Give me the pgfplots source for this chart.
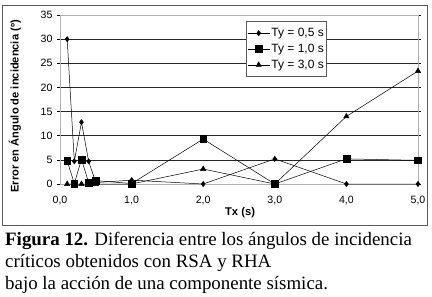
\documentclass[border=0pt]{standalone}
\usepackage{fontspec}
\setmainfont{Liberation Serif}
\newfontfamily\arial{Liberation Sans}
\usepackage{pgfplots}
\pgfplotsset{compat=1.18}
\pgfplotstableread{
x y
0.1 30.0
0.2 4.7
0.3 12.8
0.4 4.7
0.5 0.3
1.0 0.8
2.0 0.0
3.0 5.2
4.0 0.0
5.0 0.0
}\tya
\pgfplotstableread{
x y
0.1 4.8
0.2 0.1
0.3 5.1
0.4 0.3
0.5 0.7
1.0 0.1
2.0 9.3
3.0 0.0
4.0 5.2
5.0 4.9
}\tyb
\pgfplotstableread{
x y
0.1 0.0
0.2 0.0
0.3 0.0
0.4 0.0
0.5 0.0
1.0 0.0
2.0 3.1
3.0 0.0
4.0 14.0
5.0 23.4
}\tyc
\begin{document}
\begin{tikzpicture}
\path[use as bounding box] (0,0) rectangle (432bp,-297bp);
\fill[white] (0,0) rectangle (432bp,-297bp);
\draw[gray!70!black, line width=1.5bp] (2.5bp,-5.5bp) rectangle (427.5bp,-225.5bp);
\begin{axis}[
  at={(60bp,-184bp)}, anchor=south west,
  scale only axis, width=358bp, height=169bp,
  xmin=0, xmax=5, ymin=0, ymax=35,
  xtick={0,1,2,3,4,5}, ytick={0,5,...,35},
  x tick label style={/pgf/number format/fixed, /pgf/number format/fixed zerofill, /pgf/number format/precision=1, /pgf/number format/use comma},
  x tick label style={font=\arial\fontsize{10.6bp}{12bp}\selectfont, yshift=-6bp},
  y tick label style={font=\arial\fontsize{10.6bp}{12bp}\selectfont, xshift=-1bp},
  /pgf/number format/assume math mode=true,
  axis line style={gray!60, line width=0.6bp},
  ymajorgrids, major grid style={black!85, line width=0.6bp},
  xtick style={draw=none},
  ytick style={black, line width=0.6bp},
  tick align=outside, major tick length=3bp,
  xlabel={\arial\bfseries Tx (s)},
  ylabel={\arial\bfseries Error en Ángulo de incidencia (º)},
  xlabel style={font=\fontsize{11.2bp}{13bp}\selectfont, at={(axis description cs:0.503,-0.172)}, anchor=center},
  ylabel style={font=\fontsize{11.1bp}{13bp}\selectfont, at={(axis description cs:-0.126,0.459)}, anchor=center},
  legend style={font=\arial\fontsize{12bp}{13bp}\selectfont, at={(0.52,0.962)}, anchor=north west,
    draw=gray!70!black, line width=0.6bp, fill=white, row sep=3bp,
    inner xsep=1bp, inner ysep=5bp, nodes={inner sep=1.5bp}},
  legend image code/.code={\draw[mark repeat=2,mark phase=2,#1] plot coordinates {(0bp,0bp) (11bp,0bp) (22bp,0bp)};},
  legend cell align=left,
  every axis plot/.append style={black, line width=0.5bp},
]
\addplot[mark=diamond*, mark size=2.6bp] table {\tya};
\addlegendentry{Ty = 0,5 s}
\addplot[mark=square*, mark size=3.4bp] table {\tyb};
\addlegendentry{Ty = 1,0 s}
\addplot[mark=triangle*, mark size=3bp] table {\tyc};
\addlegendentry{Ty = 3,0 s}
\end{axis}
\begin{scope}[font=\fontsize{18.9bp}{22bp}\selectfont]
\node[anchor=base west, inner sep=0] at (5bp,-245bp) {\textbf{Figura 12.} Diferencia entre los ángulos de incidencia};
\node[anchor=base west, inner sep=0] at (5bp,-267bp) {críticos obtenidos con RSA y RHA};
\node[anchor=base west, inner sep=0] at (5bp,-289bp) {bajo la acción de una componente sísmica.};
\end{scope}
\end{tikzpicture}
\end{document}
